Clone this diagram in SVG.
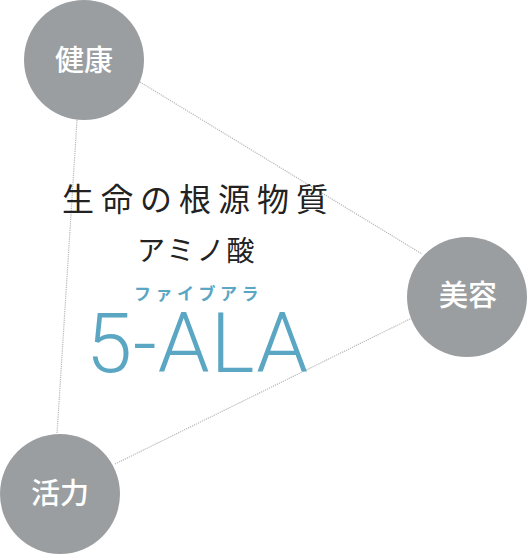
<svg xmlns="http://www.w3.org/2000/svg" width="528" height="560" viewBox="0 0 528 560">
<style>
.link{stroke:#b8b8b8;stroke-width:1.2;stroke-dasharray:1.2 1;fill:none}
.node{fill:#9b9ea0}
.nlabel{fill:#ffffff;font-family:"Noto Sans CJK JP","Noto Sans",sans-serif;font-size:29px;font-weight:500;text-anchor:middle}
.jp{font-family:"Noto Sans CJK JP","Noto Sans",sans-serif;fill:#222222}
</style>
<rect width="528" height="560" fill="#ffffff"/>
<g id="connectors">
<line class="link" x1="140" y1="82" x2="422" y2="254"/>
<line class="link" x1="77" y1="120" x2="57" y2="434"/>
<line class="link" x1="115" y1="464" x2="412" y2="318"/>
</g>
<g id="node-kenkou">
<circle class="node" cx="84" cy="60" r="60"/>
<text class="nlabel" x="84" y="71">健康</text>
</g>
<g id="node-biyou">
<circle class="node" cx="467" cy="297" r="60"/>
<text class="nlabel" x="468" y="306">美容</text>
</g>
<g id="node-katsuryoku">
<circle class="node" cx="60" cy="494" r="60"/>
<text class="nlabel" x="60" y="504">活力</text>
</g>
<g id="center-text">
<text class="jp" x="62" y="211" font-size="32" letter-spacing="7">生命の根源物質</text>
<text class="jp" x="137" y="261" font-size="28" letter-spacing="2">アミノ酸</text>
<text class="jp" x="134" y="300" font-size="17" letter-spacing="4.5" font-weight="700" fill="#5ba7c3" style="fill:#5ba7c3">ファイブアラ</text>
<text x="86" y="372" font-family="Roboto,'Liberation Sans',sans-serif" font-size="83" font-weight="300" letter-spacing="1" fill="#5ba7c3">5-ALA</text>
</g>
</svg>
